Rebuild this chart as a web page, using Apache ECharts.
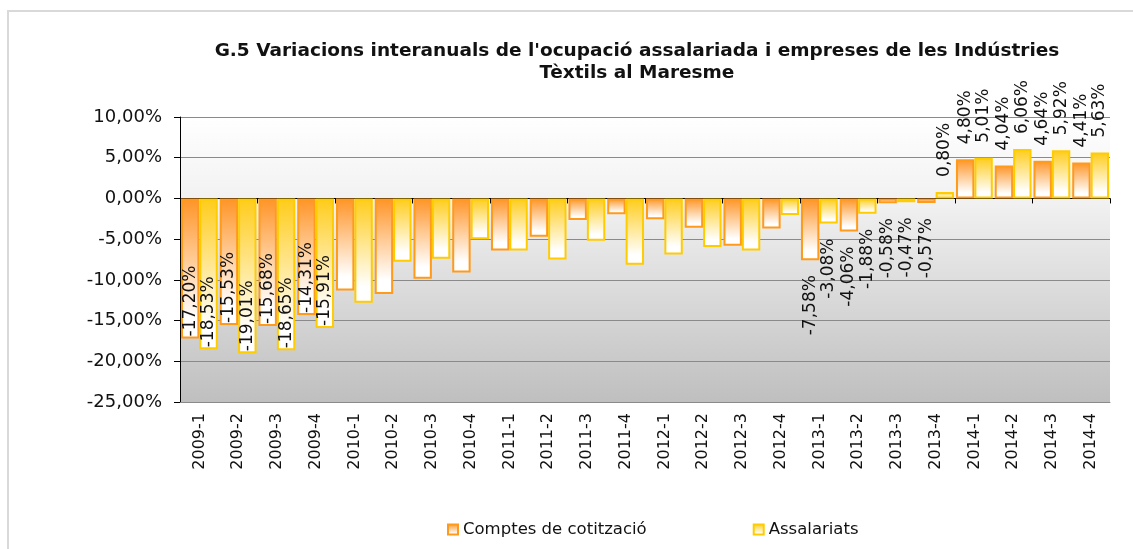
<!DOCTYPE html>
<html>
<head>
<meta charset="utf-8">
<style>
  html, body { margin: 0; padding: 0; background: #fff; }
  #chart { width: 1133px; height: 549px; }
</style>
<script src="https://cdn.jsdelivr.net/npm/echarts@6/dist/echarts.min.js"></script>
</head>
<body>
<div id="chart"></div>
<script>
  const categories = ['2009-1', '2009-2', '2009-3', '2009-4', '2010-1', '2010-2', '2010-3', '2010-4',
    '2011-1', '2011-2', '2011-3', '2011-4', '2012-1', '2012-2', '2012-3', '2012-4',
    '2013-1', '2013-2', '2013-3', '2013-4', '2014-1', '2014-2', '2014-3', '2014-4']
  const comptes = [-17.20, -15.53, -15.68, -14.31, -11.3, -11.75, -9.85, -9.1,
    -6.4, -4.7, -2.65, -1.95, -2.55, -3.6, -5.8, -3.7,
    -7.58, -4.06, -0.58, -0.57, 4.80, 4.04, 4.64, 4.41]
  const assalariats = [-18.53, -19.01, -18.65, -15.91, -12.8, -7.77, -7.4, -5.0,
    -6.4, -7.5, -5.2, -8.15, -6.9, -5.95, -6.4, -2.05,
    -3.08, -1.88, -0.47, 0.80, 5.01, 6.06, 5.92, 5.63]
  const yTicks = [-25, -20, -15, -10, -5, 0, 5, 10]

  const FONT = 'DejaVu Sans'
  const fmt = v => v.toFixed(2).replace('.', ',') + '%'

  // which bars carry a value label, and where
  function labelFor(i, v) {
    if (i < 4) {
      return { show: true, position: 'insideBottom', distance: 2, rotate: 90, align: 'left', verticalAlign: 'middle' }
    }
    if (i >= 16) {
      if (v < 0) return { show: true, position: 'bottom', distance: 15, rotate: 90, align: 'right', verticalAlign: 'middle' }
      return { show: true, position: 'top', distance: 15, rotate: 90, align: 'left', verticalAlign: 'middle' }
    }
    return { show: false }
  }

  function grad(c) {
    return new echarts.graphic.LinearGradient(0, 0, 0, 1, [
      { offset: 0, color: c },
      { offset: 0.85, color: '#ffffff' },
      { offset: 1, color: '#ffffff' }
    ])
  }

  function makeSeries(name, values, col, border) {
    return {
      name: name,
      type: 'bar',
      xAxisIndex: 0,
      barGap: '0%',
      barCategoryGap: '5%',
      itemStyle: { color: grad(col), borderColor: border, borderWidth: 2 },
      label: {
        color: '#111',
        fontFamily: FONT,
        fontSize: 17,
        formatter: p => fmt(p.value)
      },
      data: values.map((v, i) => ({ value: v, label: labelFor(i, v) }))
    }
  }

  const chart = echarts.init(document.getElementById('chart'))
  chart.setOption({
    animation: false,
    title: {
      text: "G.5 Variacions interanuals de l'ocupació assalariada i empreses de les Indústries\nTèxtils al Maresme",
      left: 632,
      top: 35,
      textAlign: 'center',
      textStyle: { fontFamily: FONT, fontSize: 18.5, fontWeight: 'bold', color: '#111', lineHeight: 22 }
    },
    graphic: [{
      type: 'rect',
      shape: { x: 8, y: 11, width: 1140, height: 560 },
      style: { fill: 'none', stroke: '#d9d9d9', lineWidth: 2 },
      silent: true
    }],
    legend: {
      left: 442,
      top: 516,
      itemWidth: 10,
      itemHeight: 10,
      itemGap: 106,
      icon: 'rect',
      textStyle: { fontFamily: FONT, fontSize: 16.5, color: '#111' },
      data: ['Comptes de cotització', 'Assalariats']
    },
    grid: {
      left: 180,
      right: 23,
      top: 117,
      bottom: 147,
      containLabel: false,
      outerBoundsMode: 'none',
      show: true,
      borderWidth: 0,
      backgroundColor: new echarts.graphic.LinearGradient(0, 0, 0, 1, [
        { offset: 0, color: '#ffffff' },
        { offset: 0.3, color: '#f1f1f1' },
        { offset: 1, color: '#bfbfbf' }
      ])
    },
    xAxis: [{
      // labels along the bottom of the plot
      type: 'category',
      position: 'bottom',
      data: categories,
      axisLine: { onZero: false, show: true, lineStyle: { color: '#8a8a8a' } },
      axisTick: { show: false },
      axisLabel: {
        rotate: 90,
        margin: 11,
        interval: 0,
        fontFamily: FONT,
        fontSize: 16,
        color: '#111'
      },
      splitLine: { show: false }
    }, {
      // the zero line with its ticks
      type: 'category',
      position: 'top',
      data: categories,
      axisLine: { onZero: true, lineStyle: { color: '#000', width: 1 } },
      axisTick: { show: true, inside: true, length: 5, lineStyle: { color: '#000' } },
      axisLabel: { show: false },
      splitLine: { show: false }
    }],
    yAxis: {
      type: 'value',
      min: yTicks[0],
      max: yTicks[yTicks.length - 1],
      interval: 5,
      axisLine: { show: true, lineStyle: { color: '#000' } },
      axisTick: { show: true, length: 6, lineStyle: { color: '#000' } },
      axisLabel: {
        margin: 18,
        fontFamily: FONT,
        fontSize: 18,
        color: '#111',
        formatter: v => fmt(v)
      },
      splitLine: { show: true, lineStyle: { color: '#8a8a8a', width: 1 } }
    },
    series: [
      makeSeries('Comptes de cotització', comptes, '#ff9426', '#ff9a1a'),
      makeSeries('Assalariats', assalariats, '#ffcc1a', '#ffcc00')
    ]
  })
</script>
</body>
</html>
